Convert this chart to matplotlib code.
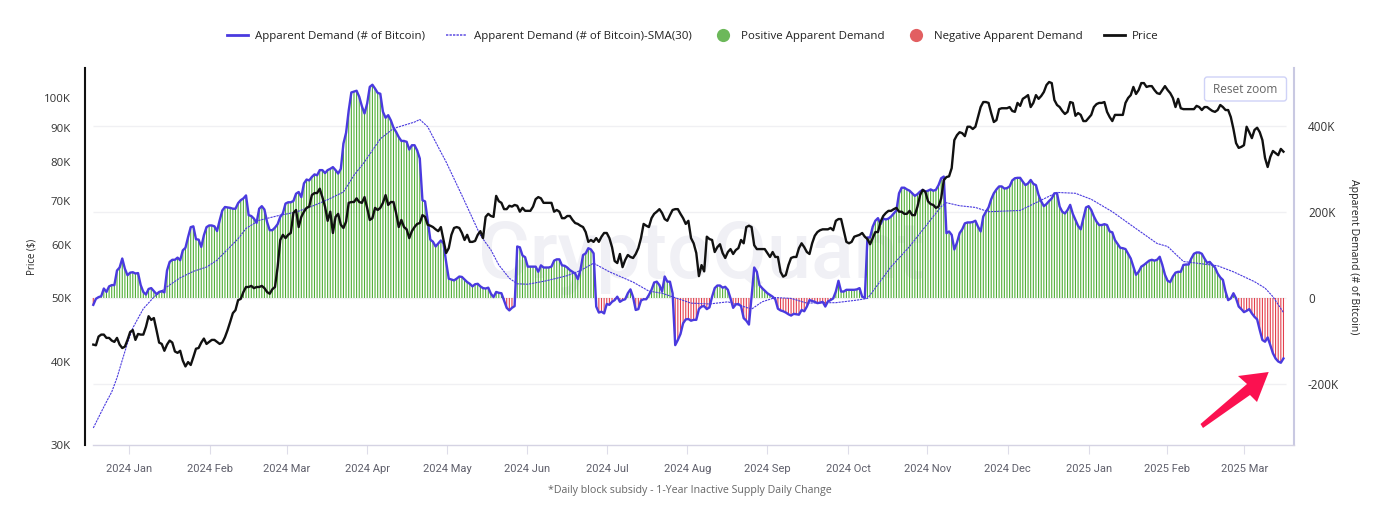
import numpy as np
import matplotlib
matplotlib.use("Agg")
import matplotlib.pyplot as plt
from matplotlib.lines import Line2D
from matplotlib.patches import Polygon, FancyBboxPatch

FONT = "Open Sans"
plt.rcParams["font.family"] = [FONT, "DejaVu Sans"]

# Apparent demand, thousands of BTC, daily
demand = [
-16,-2,2,4,22,14,27,30,30,64,71,92,68,53,59,60,57,58,30,14,8,21,23,16,9,14,16,13,64,84,
89,89,94,88,111,117,142,165,167,137,136,119,146,165,169,169,167,156,181,204,212,211,210,208,208,221,228,232,239,193,
191,185,175,208,214,206,177,158,158,164,172,189,197,220,223,223,226,243,247,235,267,276,274,282,288,286,298,298,291,298,
301,305,298,290,301,360,385,437,479,481,483,469,447,430,453,492,497,488,478,476,434,420,426,414,397,387,375,366,366,364,
346,356,356,344,325,228,225,181,136,131,120,127,134,127,84,45,43,41,45,50,49,43,37,33,27,32,33,27,23,22,
24,10,2,14,12,
11,-6,-23,-29,-23,-19,120,118,99,95,73,73,73,73,61,76,71,71,71,73,87,90,90,76,75,71,65,61,57,44,
65,100,104,116,113,104,-20,-34,-32,-36,-14,-16,-9,-5,3,-9,-5,-3,11,20,2,-28,-26,-6,-3,-3,7,19,36,38,
30,15,50,38,38,11,-110,-98,-84,-59,-50,-49,-53,-51,-51,-26,-20,-19,-26,-22,3,23,29,29,24,26,19,-1,-23,-15,
-14,-19,-47,-53,-62,3,71,61,30,23,17,11,7,3,-3,-25,-29,-31,-34,-38,-41,-37,-38,-39,-28,-31,-20,-5,-7,-9,
-12,-11,-9,-20,-8,-5,-1,15,40,15,15,19,19,19,19,20,23,3,0,141,141,166,180,186,172,185,183,185,190,197,
204,244,
257,257,253,250,244,238,242,248,252,248,250,253,250,252,263,279,283,151,155,147,113,129,151,160,174,176,176,177,180,166,
155,190,201,211,230,244,253,260,260,255,256,260,274,279,280,280,271,263,267,275,266,263,240,225,214,219,226,232,244,244,
213,201,197,205,217,196,182,168,160,186,211,214,205,190,178,170,170,172,170,155,153,135,126,117,116,114,103,92,73,54,
61,73,77,82,87,89,87,89,96,77,54,40,37,50,59,61,61,77,78,78,92,103,106,106,103,92,82,84,77,71,
57,48,42,15,-5,-1,11,-1,-20,-26,-33,-30,-26,-36,-44,-50,-75,-98,-102,-92,-110,-129,-141,-148,-151,-141,
]
# Daily BTC price, thousands of USD
price = [
42.5,42.4,43.7,44.0,44.0,43.5,43.5,43.1,42.9,43.5,42.5,42.0,42.2,43.2,44.4,44.7,43.2,44.1,44.0,44.0,
45.2,46.9,46.3,46.6,44.7,42.8,42.6,41.6,42.5,43.1,42.8,41.5,41.3,41.6,40.2,39.4,40.0,39.6,40.7,41.9,
42.0,42.8,43.4,42.6,42.9,43.2,43.2,42.9,42.6,42.8,43.6,44.7,46.0,47.4,47.9,49.6,49.8,51.0,51.9,51.9,
52.1,51.7,51.9,51.9,52.1,51.7,51.0,50.7,51.5,51.9,55.6,61.1,62.2,61.5,62.2,62.6,67.1,67.8,63.9,66.2,
67.4,68.3,68.6,71.4,71.9,71.9,73.0,70.9,68.6,65.3,67.4,62.6,66.2,66.9,64.4,63.7,65.1,69.5,69.7,69.7,
70.6,69.7,69.5,70.9,68.3,65.5,65.9,68.3,67.8,68.3,69.5,71.4,69.0,69.7,69.7,67.1,63.9,65.5,63.9,63.4,
61.5,63.0,63.9,64.6,64.8,66.6,66.2,64.4,64.2,63.9,63.4,63.0,63.9,61.1,58.4,59.4,62.2,63.7,63.9,63.7,
62.6,61.1,62.2,60.7,60.7,60.9,62.2,63.0,61.5,66.2,66.9,66.4,66.2,71.2,69.9,
69.5,68.0,68.0,68.8,68.6,69.0,68.8,67.4,68.3,67.6,67.6,67.6,68.6,70.4,70.9,70.6,69.5,69.5,69.5,69.5,
67.4,67.8,67.4,65.9,65.9,66.4,66.4,65.5,64.8,64.6,64.2,63.9,62.8,60.7,61.1,60.7,61.5,60.7,61.8,62.6,
62.6,61.5,59.6,56.8,56.4,58.2,55.6,57.0,58.0,57.6,57.4,58.2,59.4,61.5,64.6,64.2,63.9,65.9,66.9,67.4,
68.0,67.1,65.7,65.3,66.6,67.8,68.0,68.0,66.9,65.9,64.6,65.3,61.5,60.4,58.4,53.9,56.0,54.8,61.8,61.3,
61.1,58.6,59.6,60.2,58.4,57.4,58.6,59.2,58.2,59.0,59.4,61.1,60.4,63.9,64.2,63.9,60.0,59.2,59.2,59.2,
59.2,58.4,57.6,58.6,57.6,57.6,54.7,53.8,54.1,56.0,57.4,57.6,57.6,59.4,60.4,59.6,58.6,58.2,60.4,62.0,
62.8,63.2,63.4,63.4,63.4,63.7,63.2,65.3,65.7,65.7,63.2,60.7,60.4,60.7,61.8,62.0,62.2,62.6,61.8,61.3,
60.2,61.5,62.8,62.8,65.1,66.4,67.1,67.6,67.6,68.0,68.3,67.4,
67.4,66.9,66.9,67.6,66.6,66.6,68.6,71.4,72.7,72.2,69.9,69.2,69.0,68.3,68.6,70.6,75.2,76.0,76.2,78.4,
86.4,87.9,88.8,88.5,87.6,90.5,90.5,89.8,90.5,93.6,96.9,98.6,98.6,98.3,94.9,92.0,92.6,96.2,96.5,96.5,
96.5,96.9,95.6,95.3,98.3,97.3,99.7,100.3,101.0,96.9,98.3,101.0,99.7,100.7,102.1,104.6,105.7,105.3,99.3,97.6,
96.9,95.6,94.6,95.3,98.6,98.3,94.0,94.9,94.3,92.3,92.3,93.3,94.3,96.9,97.9,98.3,98.3,98.6,95.3,93.6,
92.3,94.3,94.3,94.3,94.3,98.3,100.0,101.0,103.9,101.4,102.8,105.3,105.3,103.9,104.2,104.2,102.8,101.7,101.4,102.8,
104.2,102.8,101.7,100.0,96.9,99.7,96.5,96.2,96.2,96.2,96.2,96.2,97.3,96.9,95.9,96.9,96.9,96.2,95.6,95.3,
95.9,97.6,96.9,95.9,95.9,93.6,89.8,85.5,84.1,84.4,84.9,90.5,88.8,87.0,89.5,90.2,88.8,86.4,81.2,78.7,
81.5,83.2,82.6,82.0,83.8,83.0,
]
# 30-day SMA read at the days where its slope changes
sma_days = [0,3,5,7,9,11,13,15,19,23,28,33,38,43,47,50,55,58,63,71,77,84,89,95,99,103,109,114,122,124,127,132,134,140,147,
            151,154,158,161,165,172,180,185,190,196,205,211,216,227,234,241,247,250,254,259,265,271,277,282,290,294,296,303,
            310,314,322,324,329,335,340,352,360,366,373,379,387,395,404,408,414,427,433,441,445,448,452]
sma_vals = [-303,-266,-242,-219,-186,-145,-105,-70,-25,2,26,47,62,72,88,107,138,162,181,193,200,216,229,247,286,317,371,395,410,416,399,340,317,239,146,
            112,77,46,33,32,40,52,64,81,61,37,16,11,-12,-14,-9,-20,-26,-9,1,-1,-12,-11,-11,-5,-1,15,73,
            120,151,213,222,215,211,201,204,228,246,244,230,201,166,127,120,85,75,61,38,23,3,-34]

tick_days = [13.4,44.4,73.5,104,134.4,164.8,195.2,225.6,256,286.6,316.8,347.2,378.2,407.6,437.2]
tick_labels = ["2024 Jan","2024 Feb","2024 Mar","2024 Apr","2024 May","2024 Jun","2024 Jul","2024 Aug",
               "2024 Sep","2024 Oct","2024 Nov","2024 Dec","2025 Jan","2025 Feb","2025 Mar"]
price_ticks = [30,40,50,60,70,80,90,100]
demand_ticks = [-200,0,200,400]

BLUE = "#4a3adf"
GREEN = "#4fae35"
RED = "#e43f4c"
W, H = 1374, 508
fig = plt.figure(figsize=(W/100, H/100), dpi=100)
rect = [85/W, 1-445/H, (1294-85)/W, (445-68)/H]
ax2 = fig.add_axes(rect)
ax1 = ax2.twinx()
ax2.yaxis.tick_right(); ax2.yaxis.set_label_position("right")
ax1.yaxis.tick_left(); ax1.yaxis.set_label_position("left")
ax1.set_zorder(ax2.get_zorder()+1); ax1.patch.set_visible(False)

days = np.arange(len(demand))
d = np.array(demand, float)
xlim = (-3.15, 456.0)

ax2.hlines(demand_ticks, 0, 452.8, color="#f0f0f3", lw=1, zorder=0)
ax2.text((478-85)/1209, (445-278)/377, "CryptoQuant", transform=ax2.transAxes, ha="left", va="baseline",
         fontsize=57, color="#f0f0f5", zorder=0, family="Roboto", weight="medium")
ax2.bar(days[d >= 0], d[d >= 0], width=0.42, color=GREEN, zorder=1, snap=False, lw=0)
ax2.bar(days[d < 0], d[d < 0], width=0.42, color=RED, zorder=1, snap=False, lw=0)
ax2.plot(days, d, color=BLUE, lw=1.7, zorder=3, solid_joinstyle="round")
ax2.plot(sma_days, sma_vals, color=BLUE, lw=0.8, ls=(0, (2, 0.8)), zorder=3)
ax2.set_xlim(xlim)
ax2.set_ylim(-342.7, 536)
ax2.set_yticks(demand_ticks)
ax2.set_yticklabels(["-200K", "0", "200K", "400K"])
ax2.tick_params(axis="y", length=0, pad=10, labelsize=8.4, labelcolor="#333333")
ax2.set_xticks(tick_days)
ax2.set_xticklabels(tick_labels, family="Roboto")
ax2.tick_params(axis="x", length=6.5, width=0.8, color="#dedde9", pad=7, labelsize=8.0, labelcolor="#5f5f6b")

ax1.plot(np.arange(len(price)), price, color="#111111", lw=1.7, zorder=4, solid_joinstyle="round")
ax1.set_yscale("log")
ax1.set_ylim(30, 110.96)
ax1.set_xlim(xlim)
ax1.set_yticks(price_ticks)
ax1.set_yticklabels([f"{v}K" for v in price_ticks])
ax1.minorticks_off()
ax1.tick_params(axis="y", which="both", length=0, pad=10, labelsize=8.2, labelcolor="#333333")

ax1.set_ylabel("Price ($)", fontsize=6.9, color="#222222", labelpad=0)
ax1.yaxis.set_label_coords((37-85)/(1294-85), 0.5)
ax2.set_ylabel("Apparent Demand (# of Bitcoin)", fontsize=7.6, color="#222222", rotation=270, va="center")
ax2.yaxis.set_label_coords((1354-85)/(1294-85), 0.5)

for a in (ax1, ax2):
    for s in a.spines.values():
        s.set_visible(False)
ax1.spines["left"].set_visible(True); ax1.spines["left"].set_color("#111111"); ax1.spines["left"].set_linewidth(1.5)
ax1.spines["right"].set_visible(True); ax1.spines["right"].set_color("#c9c9e2"); ax1.spines["right"].set_linewidth(1.5)
ax1.spines["bottom"].set_visible(True); ax1.spines["bottom"].set_color("#d5d3e3"); ax1.spines["bottom"].set_linewidth(1.0)
ax1.spines["bottom"].set_bounds(0, 456)
ax1.tick_params(axis="x", bottom=False, labelbottom=False)

fs = 8.25
handles = [
    Line2D([], [], color=BLUE, lw=2),
    Line2D([], [], color="#7f72e8", lw=1.4, ls=(0, (1.2, 0.6))),
    Line2D([], [], color="none", marker="o", ms=9.5, mfc="#6cb85a", mec="none"),
    Line2D([], [], color="none", marker="o", ms=9.5, mfc="#e25f61", mec="none"),
    Line2D([], [], color="#111111", lw=2),
]
names = ["Apparent Demand (# of Bitcoin)", "Apparent Demand (# of Bitcoin)-SMA(30)",
         "Positive Apparent Demand", "Negative Apparent Demand", "Price"]
leg = fig.legend(handles, names, loc="center", bbox_to_anchor=(692.5/W, 1-36/H), ncol=5, frameon=False,
                 fontsize=fs, handlelength=1.85, handletextpad=0.6, columnspacing=1.85, borderpad=0,
                 labelcolor="#222222")

fig.text(689.5/W, 1-490.5/H, "*Daily block subsidy - 1-Year Inactive Supply Daily Change",
         ha="center", va="center", fontsize=7.7, color="#666666")

def P(x, y):
    return (x/W, 1-y/H)
fig.add_artist(FancyBboxPatch(P(1204.5, 101), 82/W, 24/H, boxstyle="round,pad=0,rounding_size=0.002",
                              transform=fig.transFigure, fc="white", ec="#cfd2f7", lw=1, zorder=5, mutation_aspect=2.7))
fig.text(1245/W, 1-89.5/H, "Reset zoom", ha="center", va="center", fontsize=8.6, color="#666666", zorder=6)

arrow = [(1268.7,372),(1238,376),(1247,384),(1200.5,424),(1203,428),(1250,395),(1257,402)]
fig.add_artist(Polygon([P(*q) for q in arrow], closed=True, transform=fig.transFigure,
                       fc="#fb1150", ec="none", zorder=7))

fig.savefig("out.png", dpi=100)
